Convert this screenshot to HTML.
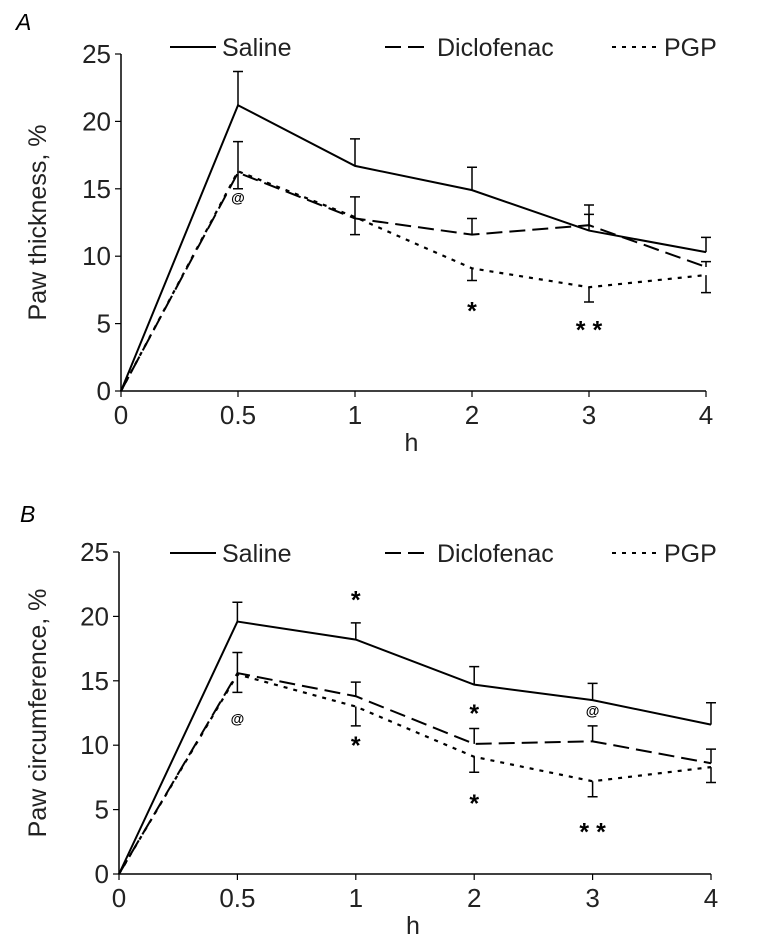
<!DOCTYPE html>
<html><head><meta charset="utf-8"><style>
body{margin:0;background:#fff;}
svg{display:block;font-family:"Liberation Sans",sans-serif;}
</style></head><body>
<svg id="chart" width="774" height="938" viewBox="0 0 774 938"></svg>
<script>
const categories = ["0","0.5","1","2","3","4"];
const yTicks = [0,5,10,15,20,25];
const seriesNames = ["Saline","Diclofenac","PGP"];
const salineA = [0,21.2,16.7,14.9,11.9,10.3];
const diclA = [0,16.2,12.8,11.6,12.3,9.2];
const pgpA = [0,16.3,12.9,9.1,7.7,8.6];
const salineErrA = [0,2.5,2.0,1.7,1.9,1.1];
const diclErrA = [0,2.3,1.6,1.2,0.8,0.4];
const pgpErrA = [0,1.3,1.3,0.9,1.1,1.3];
const salineB = [0,19.6,18.2,14.7,13.5,11.6];
const diclB = [0,15.6,13.8,10.1,10.3,8.6];
const pgpB = [0,15.5,13.0,9.1,7.2,8.3];
const salineErrB = [0,1.5,1.3,1.4,1.3,1.7];
const diclErrB = [0,1.6,1.1,1.2,1.2,1.1];
const pgpErrB = [0,1.4,1.5,1.2,1.2,1.2];
const annotA = [[1,14.0,"@"],[3,5.3,"*"],[4,3.9,"* *"]];
const annotB = [[1,11.7,"@"],[2,20.6,"*"],[2,9.3,"*"],[3,11.8,"*"],[3,4.8,"*"],[4,12.3,"@"],[4,2.6,"* *"]];

const NS="http://www.w3.org/2000/svg";
const svg=document.getElementById('chart');
function mk(tag,attrs,parent,text){const e=document.createElementNS(NS,tag);for(const k in attrs)e.setAttribute(k,attrs[k]);if(text!==undefined)e.textContent=text;(parent||svg).appendChild(e);return e;}

function panel(cfg){
  const g=mk('g',{});
  
  
  const x=i=>cfg.x0+i*cfg.step;
  const y=v=>cfg.y0-v*(cfg.y0-cfg.y25)/25;
  const lab=mk('text',{x:cfg.lx,y:cfg.ly,'font-size':23,'font-style':'italic'},g,cfg.letter);
  
  
  const ax=mk('path',{d:`M${x(0)},${y(25)}V${y(0)}H${x(5)}`,stroke:'#000','stroke-width':1.5,fill:'none'},g);
  
  
  yTicks.forEach(t=>{
    mk('line',{x1:x(0)-6,x2:x(0),y1:y(t),y2:y(t),stroke:'#000','stroke-width':1.2},g);
    const tl=mk('text',{x:x(0)-10,y:y(t)+9,'font-size':26,'text-anchor':'end',fill:'#222'},g,String(t));
    
    
  });
  categories.forEach((c,i)=>{
    mk('line',{x1:x(i),x2:x(i),y1:y(0),y2:y(0)+6,stroke:'#000','stroke-width':1.2},g);
    const tl=mk('text',{x:x(i),y:y(0)+33,'font-size':26,'text-anchor':'middle',fill:'#222'},g,c);
    
    
  });
  const xt=mk('text',{x:(x(0)+x(5))/2-2,y:y(0)+60,'font-size':25,'text-anchor':'middle',fill:'#222'},g,'h');
  
  
  const yt=mk('text',{x:0,y:0,'font-size':25,'text-anchor':'middle',fill:'#222',transform:`translate(${cfg.ytx},${(y(0)+y(25))/2}) rotate(-90)`},g,cfg.ytitle);
  
  
  const styles=[{dash:'none',w:2},{dash:'16,7',w:2},{dash:'4,6',w:2.2}];
  const dirs=[-1,-1,1];
  cfg.series.forEach((s,k)=>{
    const p=mk('polyline',{points:s.map((v,i)=>x(i)+','+y(v)).join(' '),fill:'none',stroke:'#000','stroke-width':styles[k].w,'stroke-dasharray':styles[k].dash},g);
    
    
    cfg.errs[k].forEach((e,i)=>{
      if(!e)return;
      const v2=s[i]-dirs[k]*e;
      const eb=mk('path',{d:`M${x(i)},${y(s[i])}V${y(v2)}M${x(i)-5},${y(v2)}H${x(i)+5}`,stroke:'#000','stroke-width':1.5,fill:'none'},g);
      
      
    });
  });
  cfg.annot.forEach(a=>{
    const at=mk('text',{x:x(a[0]),y:y(a[1]),'font-size':a[2]==='@'?14:25,'font-weight':'bold','text-anchor':'middle'},g,a[2]);
    
    
  });
  const lx=[170,385,612];
  seriesNames.forEach((n,k)=>{
    const lg=mk('g',{},g);
    
    
    mk('line',{x1:lx[k],x2:lx[k]+46,y1:cfg.legY,y2:cfg.legY,stroke:'#000','stroke-width':2,'stroke-dasharray':styles[k].dash},lg);
    mk('text',{x:lx[k]+52,y:cfg.legY+9,'font-size':25,fill:'#222'},lg,n);
  });
}
panel({name:'panel-a',letter:'A',lx:16,ly:30,x0:121,step:117,y0:391,y25:54,ytx:46,ytitle:'Paw thickness, %',
  series:[salineA,diclA,pgpA],errs:[salineErrA,diclErrA,pgpErrA],annot:annotA,legY:47});
panel({name:'panel-b',letter:'B',lx:20,ly:522,x0:119,step:118.4,y0:874,y25:552,ytx:46,ytitle:'Paw circumference, %',
  series:[salineB,diclB,pgpB],errs:[salineErrB,diclErrB,pgpErrB],annot:annotB,legY:553});
</script>
</body></html>
